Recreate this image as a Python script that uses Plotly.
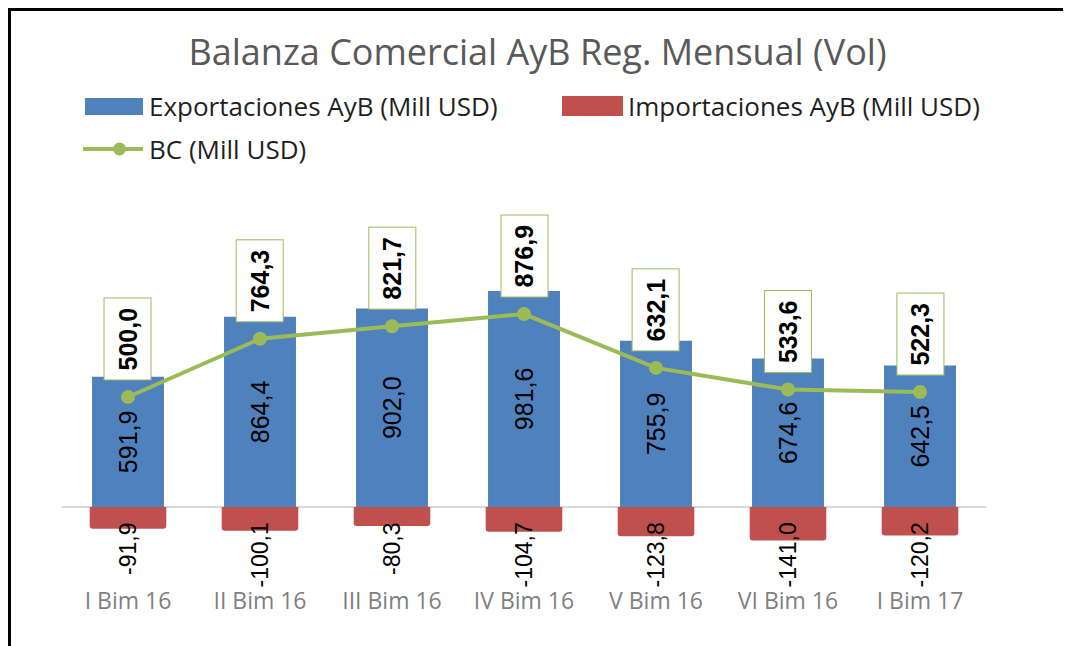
import plotly.graph_objects as go

categories = ["I Bim 16", "II Bim 16", "III Bim 16", "IV Bim 16", "V Bim 16", "VI Bim 16", "I Bim 17"]
exportaciones = [591.9, 864.4, 902.0, 981.6, 755.9, 674.6, 642.5]
importaciones = [-91.9, -100.1, -80.3, -104.7, -123.8, -141.0, -120.2]
bc = [500.0, 764.3, 821.7, 876.9, 632.1, 533.6, 522.3]

BLUE = "#4F81BD"
RED = "#C0504D"
GREEN = "#9BBB59"
FONT = "Open Sans"

W, H = 1071, 646
OFF = 8  # page offset of the figure (body margin)
# plot area in page pixels
PL, PR, PT, PB = 62, 986, 180, 585
L, R, T, B = PL - OFF, W - (PR - OFF), PT - OFF, H - (PB - OFF)
PW, PH = W - L - R, H - T - B

Y_RANGE = [-354.5, 1486]
K2 = 0.22 / 0.237  # secondary (imports) axis scale
Y2_RANGE = [Y_RANGE[0] * K2, Y_RANGE[1] * K2]


def px(xp):
    return (xp - OFF - L) / PW


def py(yp):
    return (H - B - (yp - OFF)) / PH


def fmt(v):
    return f"{v:.1f}".replace(".", ",")


fig = go.Figure()
fig.add_trace(go.Bar(
    x=categories, y=exportaciones, name="Exportaciones AyB (Mill USD)",
    marker=dict(color=BLUE, line=dict(width=0)), width=0.545,
    text=[fmt(v) for v in exportaciones], textposition="inside",
    insidetextanchor="middle", textangle=-90,
    insidetextfont=dict(family="Liberation Sans", size=25, color="black"),
    showlegend=False,
))
fig.add_trace(go.Bar(
    x=categories, y=importaciones, name="Importaciones AyB (Mill USD)", yaxis="y2",
    marker=dict(color=RED, line=dict(width=0), cornerradius=3), width=0.58,
    showlegend=False,
))
fig.add_trace(go.Scatter(
    x=categories, y=bc, name="BC (Mill USD)", mode="lines+markers",
    line=dict(color=GREEN, width=4), marker=dict(color=GREEN, size=14),
    showlegend=False,
))

ann = []
for c, v in zip(categories, bc):
    ann.append(dict(x=c, y=v, xref="x", yref="y", text=fmt(v), showarrow=False,
                    textangle=-90, yanchor="bottom", xanchor="center", yshift=16,
                    font=dict(family="Liberation Sans", size=25, color="black", weight="bold"),
                    bgcolor="white", bordercolor=GREEN, borderwidth=1, borderpad=9))
for c, v in zip(categories, importaciones):
    ann.append(dict(x=c, y=0, xref="x", yref="y", text=fmt(v), showarrow=False,
                    textangle=-90, yanchor="top", xanchor="center", yshift=-14,
                    font=dict(family="Liberation Sans", size=23, color="black")))

# legend (manual)
leg_font = dict(family=FONT, size=26, color="#1F1F1F")
ann.append(dict(x=px(147), y=py(106), xref="paper", yref="paper", text="Exportaciones AyB (Mill USD)",
                showarrow=False, xanchor="left", yanchor="middle", font=leg_font))
ann.append(dict(x=px(626), y=py(106), xref="paper", yref="paper", text="Importaciones AyB (Mill USD)",
                showarrow=False, xanchor="left", yanchor="middle", font=leg_font))
ann.append(dict(x=px(147), y=py(149), xref="paper", yref="paper", text="BC (Mill USD)",
                showarrow=False, xanchor="left", yanchor="middle", font=leg_font))

shapes = [
    dict(type="rect", xref="paper", yref="paper", x0=px(85), x1=px(143), y0=py(115), y1=py(98),
         fillcolor=BLUE, line=dict(width=0)),
    dict(type="rect", xref="paper", yref="paper", x0=px(562), x1=px(623), y0=py(116), y1=py(96),
         fillcolor=RED, line=dict(width=0)),
    dict(type="line", xref="paper", yref="paper", x0=px(83), x1=px(143), y0=py(149), y1=py(149),
         line=dict(color=GREEN, width=4)),
    dict(type="circle", xref="paper", yref="paper", x0=px(113), x1=px(126), y0=py(155.5), y1=py(142.5),
         fillcolor=GREEN, line=dict(width=0)),
    # outer frame
    dict(type="path", xref="paper", yref="paper",
         path=f"M {px(9.5)},{py(700)} L {px(9.5)},{py(9.5)} L {px(1067.5)},{py(9.5)} L {px(1067.5)},{py(700)}",
         line=dict(color="black", width=3)),
]

fig.update_layout(
    width=W, height=H,
    margin=dict(l=L, r=R, t=T, b=B, autoexpand=False),
    paper_bgcolor="white", plot_bgcolor="white",
    barmode="overlay",
    title=dict(text="Balanza Comercial AyB Reg. Mensual (Vol)", x=(537.5 - OFF) / W, xanchor="center",
               y=1 - (52 - OFF) / H, yanchor="middle", xref="container", yref="container",
               font=dict(family=FONT, size=36, color="#595959")),
    xaxis=dict(showgrid=False, showline=False, ticks="", zeroline=False,
               tickfont=dict(family=FONT, size=23, color="#7F7F7F")),
    yaxis=dict(range=Y_RANGE, showgrid=False, showticklabels=False, ticks="",
               zeroline=True, zerolinecolor="#D9D9D9", zerolinewidth=1.5, showline=False),
    yaxis2=dict(range=Y2_RANGE, overlaying="y", side="right", showgrid=False, showticklabels=False,
                ticks="", zeroline=False, showline=False),
    annotations=ann, shapes=shapes,
    showlegend=False,
)

fig.write_html("out.html")
